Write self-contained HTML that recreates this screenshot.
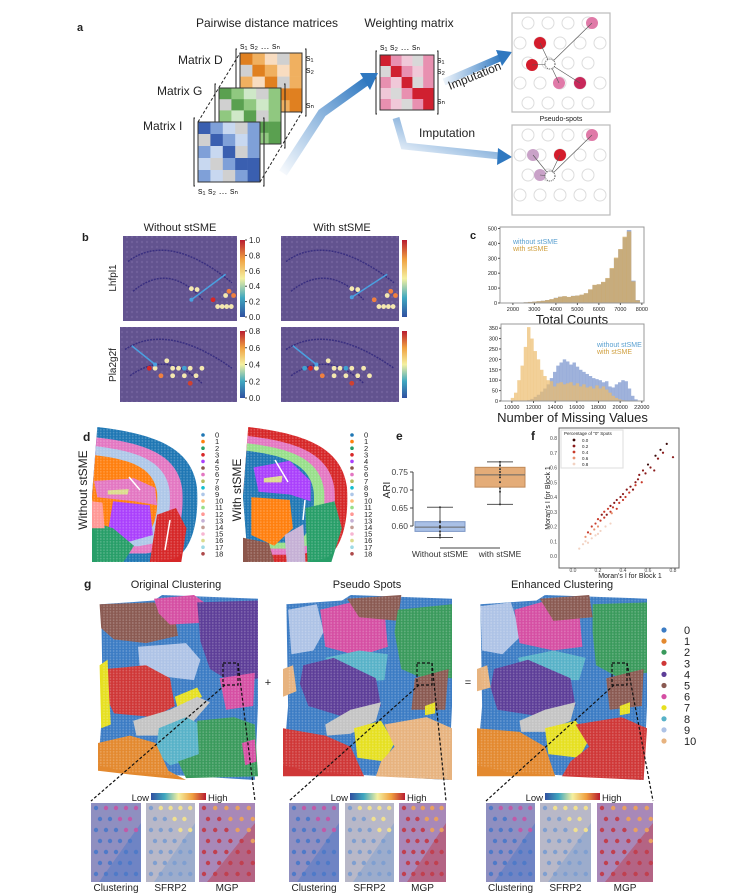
<!DOCTYPE html>
<html><head><meta charset="utf-8"><style>
html,body{margin:0;padding:0;background:#fff;}
svg{display:block;font-family:"Liberation Sans",sans-serif;}
</style></head><body>
<svg id="fig" width="749" height="893" viewBox="0 0 749 893" xmlns="http://www.w3.org/2000/svg">
<defs>
<pattern id="hex" width="3.2" height="2.8" patternUnits="userSpaceOnUse"><circle cx="1.6" cy="1.4" r="0.9" fill="#fff" fill-opacity="0.22"/></pattern>
<pattern id="tex" width="5" height="5" patternUnits="userSpaceOnUse"><circle cx="2" cy="2" r="1.2" fill="#8a78b0" fill-opacity="0.35"/></pattern>
<linearGradient id="cbar" x1="0" y1="1" x2="0" y2="0"><stop offset="0" stop-color="#3050a0"/><stop offset="0.25" stop-color="#40a8c0"/><stop offset="0.5" stop-color="#f4f0a0"/><stop offset="0.75" stop-color="#f0a040"/><stop offset="1" stop-color="#b81c30"/></linearGradient>
<linearGradient id="hbar" x1="0" y1="0" x2="1" y2="0"><stop offset="0" stop-color="#3050a0"/><stop offset="0.25" stop-color="#40a8c0"/><stop offset="0.5" stop-color="#f4f0a0"/><stop offset="0.75" stop-color="#f0a040"/><stop offset="1" stop-color="#b81c30"/></linearGradient>
<linearGradient id="arr1" x1="0" y1="1" x2="1" y2="0"><stop offset="0" stop-color="#3a80c8" stop-opacity="0.05"/><stop offset="1" stop-color="#2f78c0"/></linearGradient>
<linearGradient id="arr2" x1="0" y1="0" x2="1" y2="0"><stop offset="0" stop-color="#3a80c8" stop-opacity="0.1"/><stop offset="1" stop-color="#2f78c0"/></linearGradient>
</defs>
<g id="panelA"></g>
<g id="panelB"></g>
<g id="panelC"></g>
<g id="panelD"></g>
<g id="panelE"></g>
<g id="panelF"></g>
<g id="panelG"></g>
</svg>
<script>
// ---------- DATA ----------
const histTopBins = [1500,1700,1900,2100,2300,2500,2700,2900,3100,3300,3500,3700,3900,4100,4300,4500,4700,4900,5100,5300,5500,5700,5900,6100,6300,6500,6700,6900,7100,7300,7500,7700];
const histTopWithout = [0,0,1,2,3,5,7,9,12,15,20,25,35,42,45,40,48,50,55,65,90,120,125,140,165,230,300,360,440,490,150,20];
const histTopWith = [0,0,1,2,3,5,7,9,12,15,20,26,34,42,46,41,47,50,56,66,92,122,126,142,168,235,305,362,445,480,145,18];
const histBotBins = [9600,9900,10200,10500,10800,11100,11400,11700,12000,12300,12600,12900,13200,13500,13800,14100,14400,14700,15000,15300,15600,15900,16200,16500,16800,17100,17400,17700,18000,18300,18600,18900,19200,19500,19800,20100,20400,20700,21000,21300];
const histBotWith = [0,15,40,100,170,260,355,300,240,200,150,120,100,95,70,85,90,80,85,90,75,85,70,80,65,70,60,75,60,70,55,40,25,15,8,4,2,0,0,0];
const histBotWithout = [0,0,0,0,0,2,5,10,20,30,45,60,80,110,140,170,185,200,190,175,185,165,150,140,130,120,110,105,100,90,95,70,65,80,90,100,95,60,25,8];
const boxGroups = ["Without stSME","with stSME"];
const boxWhiskLo = [0.568,0.660];
const boxQ1 = [0.585,0.708];
const boxMedian = [0.597,0.742];
const boxQ3 = [0.612,0.763];
const boxWhiskHi = [0.652,0.778];
const boxPoints = [[0.568,0.575,0.585,0.595,0.598,0.600,0.610,0.613,0.652],[0.660,0.695,0.705,0.722,0.735,0.742,0.750,0.758,0.768,0.778]];
const eTicks = [0.60,0.65,0.70,0.75];
const scX = [0.1,0.12,0.14,0.15,0.17,0.18,0.2,0.2,0.22,0.23,0.25,0.25,0.27,0.28,0.3,0.3,0.31,0.32,0.33,0.35,0.35,0.37,0.38,0.4,0.4,0.42,0.43,0.45,0.46,0.48,0.5,0.5,0.52,0.53,0.55,0.56,0.58,0.6,0.62,0.65,0.66,0.68,0.7,0.72,0.75,0.8,0.05,0.08,0.1,0.12,0.15,0.18,0.2,0.22,0.26,0.3];
const scY = [0.13,0.16,0.15,0.2,0.18,0.22,0.2,0.25,0.24,0.28,0.26,0.3,0.28,0.32,0.3,0.34,0.29,0.33,0.36,0.32,0.38,0.36,0.4,0.38,0.42,0.4,0.45,0.43,0.47,0.45,0.5,0.48,0.52,0.55,0.5,0.58,0.56,0.62,0.6,0.58,0.68,0.66,0.72,0.7,0.76,0.67,0.05,0.08,0.1,0.09,0.12,0.14,0.15,0.17,0.2,0.22];
const scFrac = [0.6,0.4,0.6,0.4,0.6,0.4,0.6,0.4,0.4,0.2,0.4,0.4,0.2,0.4,0.4,0.2,0.6,0.4,0.2,0.4,0.2,0.4,0.2,0.4,0.2,0.4,0.2,0.4,0.2,0.2,0.2,0.4,0.2,0.2,0.4,0.2,0.2,0.0,0.2,0.2,0.0,0.2,0.0,0.2,0.0,0.2,0.8,0.8,0.8,0.8,0.8,0.8,0.8,0.8,0.8,0.8];
const fTicks = [0.0,0.1,0.2,0.3,0.4,0.5,0.6,0.7,0.8];
const fxTicks = [0.0,0.2,0.4,0.6,0.8];
const fLegend = [0.0,0.2,0.4,0.6,0.8];
const clusterColors = ["#1f77b4","#ff7f0e","#279e68","#d62728","#aa40fc","#8c564b","#e377c2","#b5bd61","#17becf","#aec7e8","#ffbb78","#98df8a","#ff9896","#c5b0d5","#c49c94","#f7b6d2","#dbdb8d","#9edae5","#ad494a"];
const gColors = ["#3c7cc4","#e3892f","#3a9a5c","#cf3737","#5d3e98","#8a5a52","#d54fa3","#e6e021","#58b2c8","#aec3e6","#e7b37f"];

// ---------- helpers ----------
const NS="http://www.w3.org/2000/svg";
function mk(parent,tag,attrs,text){const e=document.createElementNS(NS,tag);for(const k in attrs)e.setAttribute(k,attrs[k]);if(text!==undefined)e.textContent=text;parent.appendChild(e);return e;}
function txt(parent,x,y,s,size,opts){opts=opts||{};const e=mk(parent,'text',Object.assign({x:x,y:y,'font-size':size,fill:opts.fill||'#222','text-anchor':opts.anchor||'start'},opts.extra||{}),s);return e;}
const A=document.getElementById('panelA'),B=document.getElementById('panelB'),C=document.getElementById('panelC'),D=document.getElementById('panelD'),E=document.getElementById('panelE'),F=document.getElementById('panelF'),G=document.getElementById('panelG');

// ---------- Panel A ----------
let t;
t=txt(A,77,31,'a',11,{extra:{'font-weight':'bold'}});

t=txt(A,267,27,'Pairwise distance matrices',12,{anchor:'middle'});

t=txt(A,409,27,'Weighting matrix',12,{anchor:'middle'});

const pat=[[3,2,1,0,2],[0,3,2,1,2],[2,1,3,0,2],[1,0,2,3,3],[2,1,0,2,3]];
function matrix(x,y,w,h,cols,name){
  const g=mk(A,'g',{});
  
  const cw=w/5,ch=h/5;
  for(let r=0;r<5;r++)for(let c=0;c<5;c++){mk(g,'rect',{x:x+c*cw,y:y+r*ch,width:cw+0.3,height:ch+0.3,fill:cols[pat[r][c]]});}
  mk(g,'rect',{x:x,y:y,width:w,height:h,fill:'none',stroke:'#333','stroke-width':1});
  mk(g,'path',{d:`M${x-3},${y-4} h-1 v${h+8} h1 M${x+w+3},${y-4} h1 v${h+8} h-1`,stroke:'#222',fill:'none','stroke-width':1});
  return g;
}
matrix(240,53,62,59,['#d0d0d0','#f8dcc0','#f0b060','#e08020'],'matrix-d');
matrix(219,88,62,56,['#d0d0d0','#cfe8c8','#90c880','#5aa050'],'matrix-g');
matrix(198,122,62,60,['#d0d0d0','#c8d8f0','#7fa0d8','#3a5fb0'],'matrix-i');
mk(A,'path',{d:'M198,122 L240,53 M260,182 L302,112',stroke:'#222','stroke-dasharray':'3,2',fill:'none'});
t=txt(A,178,64,'Matrix D',12);
t=txt(A,157,95,'Matrix G',12);
t=txt(A,143,130,'Matrix I',12);
txt(A,240,49,'s\u2081  s\u2082   \u2026    s\u2099',9);
txt(A,198,194,'s\u2081  s\u2082   \u2026    s\u2099',9);
txt(A,306,61,'s\u2081',9);txt(A,306,73,'s\u2082',9);txt(A,306,108,'s\u2099',9);
matrix(380,55,54,55,['#d8d8d8','#f0c8d8','#e890b0','#d02030'],'weighting-matrix');
txt(A,380,50,'s\u2081 s\u2082  \u2026  s\u2099',9);
txt(A,437,63,'s\u2081',9);txt(A,437,74,'s\u2082',9);txt(A,437,104,'s\u2099',9);
t=mk(A,'path',{d:'M283,173 L322,113 L368,80',stroke:'url(#arr1)','stroke-width':9,fill:'none'});

mk(A,'polygon',{points:'378,73 360,73 370,90',fill:'#2f78c0'});
mk(A,'path',{d:'M444,82 L502,57',stroke:'url(#arr2)','stroke-width':7,fill:'none'});
mk(A,'polygon',{points:'512,52 496,50 502,66',fill:'#2f78c0'});
mk(A,'path',{d:'M396,118 L404,146 L500,156',stroke:'url(#arr1)','stroke-width':7,fill:'none'});
mk(A,'polygon',{points:'512,157 498,148 497,165',fill:'#2f78c0'});
t=txt(A,450,90,'Imputation',12,{extra:{transform:'rotate(-22 450 90)'}});
t=txt(A,419,137,'Imputation',12);
function spotBox(y,h,colored,name){
  const g=mk(A,'g',{});
  mk(g,'rect',{x:512,y:y,width:98,height:h,fill:'#fff',stroke:'#bbb','stroke-width':1.2});
  for(let r=0;r<5;r++){const off=r%2?0:8;for(let c=0;c<5;c++){const cx=520+off+c*20,cy=y+10+r*20;if(cx>606||cy>y+h-5)continue;mk(g,'circle',{cx:cx,cy:cy,r:6,fill:'none',stroke:'#ddd'});}}
  colored.forEach(p=>{mk(g,'circle',{cx:p[0],cy:y+p[1],r:6,fill:p[2]});mk(g,'line',{x1:p[0],y1:y+p[1],x2:550,y2:y+p[3]||y+51,stroke:'#555','stroke-width':0.6});});
  mk(g,'circle',{cx:550,cy:y+51,r:5,fill:'#fff',stroke:'#555','stroke-dasharray':'1,1'});
}
spotBox(13,99,[[592,10,'#e07aa8'],[540,30,'#d41c2c'],[532,52,'#d41c2c'],[559,70,'#e07aa8'],[580,70,'#c8285a']],'imputation-spots-top');
t=txt(A,561,121,'Pseudo-spots',7,{anchor:'middle'});
spotBox(125,90,[[592,10,'#e07aa8'],[533,30,'#c9a2c8'],[560,30,'#d41c2c'],[540,50,'#c9a2c8']],'imputation-spots-bottom');

// ---------- Panel B ----------
t=txt(B,82,241,'b',11,{extra:{'font-weight':'bold'}});
txt(B,180,231,'Without stSME',11,{anchor:'middle'});
txt(B,342,231,'With stSME',11,{anchor:'middle'});
t=txt(B,116,278,'Lhfpl1',10,{anchor:'middle',extra:{transform:'rotate(-90 116 278)'}});
t=txt(B,116,365,'Pla2g2f',10,{anchor:'middle',extra:{transform:'rotate(-90 116 365)'}});
const topSpots=[[0.6,0.62,'#f4e8b0'],[0.65,0.63,'#f4e8b0'],[0.79,0.75,'#d62728'],[0.83,0.83,'#f4e8b0'],[0.87,0.83,'#f4e8b0'],[0.91,0.83,'#f4e8b0'],[0.95,0.83,'#f4e8b0'],[0.93,0.65,'#f08040'],[0.9,0.7,'#f4e8b0'],[0.97,0.7,'#f08040']];
const botSpots=[[0.3,0.55,'#f4e8b0'],[0.4,0.45,'#f4e8b0'],[0.45,0.55,'#f4e8b0'],[0.5,0.55,'#f4e8b0'],[0.55,0.55,'#40a0d0'],[0.6,0.55,'#f4e8b0'],[0.35,0.65,'#f08040'],[0.45,0.65,'#f4e8b0'],[0.55,0.65,'#f4e8b0'],[0.65,0.65,'#f4e8b0'],[0.7,0.55,'#f4e8b0'],[0.6,0.75,'#d04030'],[0.25,0.55,'#d62728']];
function bImg(x,y,w,h,spots,arrow,name,cbTicks){
  const g=mk(B,'g',{});
  mk(g,'rect',{x:x,y:y,width:w,height:h,fill:'#62538f'});
  mk(g,'rect',{x:x,y:y,width:w,height:h,fill:'url(#tex)'});
  mk(g,'path',{d:`M${x+5},${y+h*0.3} Q${x+w*0.4},${y-5} ${x+w-5},${y+h*0.55}`,stroke:'#3a2f80','stroke-width':1.5,fill:'none','stroke-dasharray':'2,1'});
  mk(g,'path',{d:`M${x+10},${y+h*0.65} Q${x+w*0.4},${y+h*0.3} ${x+w*0.7},${y+h*0.75}`,stroke:'#3a2f80','stroke-width':1.5,fill:'none','stroke-dasharray':'2,1'});
  spots.forEach(s=>mk(g,'circle',{cx:x+s[0]*w,cy:y+s[1]*h,r:2.4,fill:s[2]}));
  mk(g,'line',{x1:x+arrow[0]*w,y1:y+arrow[1]*h,x2:x+arrow[2]*w,y2:y+arrow[3]*h,stroke:'#4aa0e0','stroke-width':1.5});
  const ax=x+arrow[2]*w,ay=y+arrow[3]*h,ang=Math.atan2(arrow[3]-arrow[1],(arrow[2]-arrow[0])*w/h);
  mk(g,'circle',{cx:ax,cy:ay,r:2,fill:'#4aa0e0'});
  const cb=mk(g,'rect',{x:x+w+3,y:y+4,width:5,height:h-8,fill:'url(#cbar)'});
  cbTicks.forEach((v,i)=>{const yy=y+4+(h-8)*(1-i/(cbTicks.length-1));mk(g,'line',{x1:x+w+8,y1:yy,x2:x+w+10,y2:yy,stroke:'#444'});txt(g,x+w+12,yy+3,v,8);});
}
bImg(123,236,114,85,topSpots,[0.9,0.45,0.6,0.75],'lhfpl1-without',['0.0','0.2','0.4','0.6','0.8','1.0']);
bImg(281,236,118,85,topSpots.map(s=>[s[0],s[1],s[2]==='#d62728'?'#f08040':s[2]]),[0.9,0.45,0.6,0.72],'lhfpl1-with',[]);
bImg(120,327,117,75,botSpots,[0.1,0.25,0.3,0.5],'pla2g2f-without',['0.0','0.2','0.4','0.6','0.8']);
bImg(281,327,118,75,botSpots.concat([[0.2,0.55,'#40a0d0'],[0.75,0.65,'#f4e8b0']]),[0.1,0.25,0.3,0.5],'pla2g2f-with',[]);

// ---------- Panel C ----------
t=txt(C,470,239,'c',11,{extra:{'font-weight':'bold'}});
function hist(ax,bins,series,cols,xmin,xmax,ymax,xticks,yticks,xlabel,name,legendPos){
  const g=mk(C,'g',{});
  const sx=v=>ax.x0+(v-xmin)/(xmax-xmin)*(ax.x1-ax.x0), sy=v=>ax.y1-v/ymax*(ax.y1-ax.y0);
  const bw=bins[1]-bins[0];
  series.forEach((s,si)=>{s.forEach((v,i)=>{if(v<=0)return;const r=mk(g,'rect',{x:sx(bins[i]),y:sy(v),width:sx(bins[i]+bw)-sx(bins[i])+0.2,height:sy(0)-sy(v),fill:cols[si],'fill-opacity':si===0?0.75:0.7});});});
  mk(g,'rect',{x:ax.x0,y:ax.y0,width:ax.x1-ax.x0,height:ax.y1-ax.y0,fill:'none',stroke:'#999'});
  xticks.forEach(v=>{mk(g,'line',{x1:sx(v),y1:ax.y1,x2:sx(v),y2:ax.y1+2,stroke:'#555'});txt(g,sx(v),ax.y1+8,String(v),5.5,{anchor:'middle'});});
  yticks.forEach(v=>{mk(g,'line',{x1:ax.x0-2,y1:sy(v),x2:ax.x0,y2:sy(v),stroke:'#555'});txt(g,ax.x0-3,sy(v)+2,String(v),5.5,{anchor:'end'});});
  txt(g,(ax.x0+ax.x1)/2,ax.y1+21,xlabel,13,{anchor:'middle'});
  txt(g,legendPos[0],legendPos[1],'without stSME',7,{fill:'#5aa0d0'});
  txt(g,legendPos[0],legendPos[1]+7,'with stSME',7,{fill:'#d0a040'});
}
hist({x0:500,x1:644,y0:227,y1:303},histTopBins,[histTopWithout,histTopWith],['#7f98cf','#d9aa55'],1400,8100,510,[2000,3000,4000,5000,6000,7000,8000],[0,100,200,300,400,500],'Total Counts','histogram-total-counts',[513,244]);
hist({x0:501,x1:644,y0:324,y1:401},histBotBins,[histBotWithout,histBotWith],['#7f98cf','#ecbc6c'],9000,22200,370,[10000,12000,14000,16000,18000,20000,22000],[0,50,100,150,200,250,300,350],'Number of Missing Values','histogram-missing-values',[597,347]);

// ---------- Panel D ----------
t=txt(D,83,441,'d',12,{extra:{'font-weight':'bold'}});
function brain(x0,x1,y0,y1,layers,extras,name){
  const g=mk(D,'g',{});
  const w=x1-x0,h=y1-y0;
  const shape=(s,dx)=>{const cx=x0+dx,cy=y0+h*0.55;const P=(px,py)=>[(cx+(px*w-dx)*s).toFixed(1),(cy+(py*h-h*0.55)*s).toFixed(1)];
    const a=P(0.05,0.0),b=P(0.6,0.05),c=P(1.0,0.45),d=P(0.95,0.9),e=P(0.6,1.0),f=P(0.05,1.0),m=P(0.0,0.5);
    return `M${a} C${b} ${P(0.95,0.15)} ${c} C${P(1.02,0.7)} ${d} ${P(0.8,0.97)} L${e} L${f} L${m} Z`;};
  layers.forEach(l=>mk(g,'path',{d:shape(l[0],l[1]),fill:l[2]}));
  extras.forEach(e=>mk(g,'path',{d:e[0].replace(/([\d.]+),([\d.]+)/g,(m,a,b)=>(x0+a*w/100).toFixed(1)+','+(y0+b*h/100).toFixed(1)),fill:e[1]}));
  mk(g,'path',{d:shape(1,0),fill:'url(#hex)'});
  return g;
}
brain(92,197,427,562,[[1,0,'#1f77b4'],[0.86,0,'#e377c2'],[0.74,0,'#aec7e8'],[0.62,0,'#ff7f0e']],[
 ['M2,40 L40,38 L60,45 L62,58 L40,55 L5,52 Z','#e377c2'],
 ['M15,47 L35,46 L34,50 L15,50 Z','#dbdb8d'],
 ['M20,55 L55,58 L58,80 L35,85 L15,78 Z','#aa40fc'],
 ['M0,70 L20,75 L40,88 L30,100 L0,100 Z','#279e68'],
 ['M62,65 L80,60 L90,75 L85,100 L55,100 Z','#d62728'],
 ['M0,55 L10,56 L12,75 L0,75 Z','#ff9896']
],'brain-without-stsme');
brain(243,347,427,562,[[1,0,'#d62728'],[0.88,0,'#e377c2'],[0.78,0,'#98df8a'],[0.68,0,'#1f77b4']],[
 ['M10,30 L45,25 L65,40 L65,55 L45,50 L15,48 Z','#aa40fc'],
 ['M20,38 L38,36 L37,41 L20,41 Z','#dbdb8d'],
 ['M8,52 L45,54 L48,75 L30,88 L8,80 Z','#ff7f0e'],
 ['M60,60 L88,55 L95,75 L85,100 L62,100 Z','#279e68'],
 ['M0,82 L25,86 L30,100 L0,100 Z','#8c564b'],
 ['M40,80 L58,72 L60,100 L42,100 Z','#c5b0d5']
],'brain-with-stsme');
mk(D,'path',{d:'M129,477 L140,490 M165,550 L170,520',stroke:'#fff','stroke-width':1.5});
mk(D,'path',{d:'M275,460 L288,482 M303,520 L305,500',stroke:'#fff','stroke-width':1.5});
t=txt(D,87,490,'Without stSME',12,{anchor:'middle',extra:{transform:'rotate(-90 87 490)'}});
t=txt(D,241,490,'With stSME',12,{anchor:'middle',extra:{transform:'rotate(-90 241 490)'}});
[[203,215,'legend-d-left'],[352,364,'legend-d-right']].forEach(L=>{
  const g=mk(D,'g',{});
  clusterColors.forEach((c,i)=>{const y=435+i*6.6;mk(g,'circle',{cx:L[0],cy:y,r:1.8,fill:c});txt(g,L[1],y+2.6,String(i),7.5);});
});

// ---------- Panel E ----------
t=txt(E,396,440,'e',12,{extra:{'font-weight':'bold'}});
const ey=v=>526-(v-0.6)*360;
const ex=[440,500];
mk(E,'line',{x1:413,y1:ey(0.60),x2:413,y2:ey(0.75),stroke:'#444'});
mk(E,'line',{x1:440,y1:548,x2:500,y2:548,stroke:'#444'});
eTicks.forEach(v=>{mk(E,'line',{x1:410,y1:ey(v),x2:413,y2:ey(v),stroke:'#444'});txt(E,408,ey(v)+3,v.toFixed(2),8.5,{anchor:'end',fill:'#444'});});
t=txt(E,390,490,'ARI',10,{anchor:'middle',extra:{transform:'rotate(-90 390 490)'}});
const bcol=['#a9c0e6','#e4ac78'],bst=['#7c97c6','#c08a58'];
boxGroups.forEach((gname,i)=>{
  const g=mk(E,'g',{});
  const cx=ex[i];
  mk(g,'line',{x1:cx,y1:ey(boxWhiskLo[i]),x2:cx,y2:ey(boxWhiskHi[i]),stroke:'#555'});
  mk(g,'line',{x1:cx-13,y1:ey(boxWhiskLo[i]),x2:cx+13,y2:ey(boxWhiskLo[i]),stroke:'#555'});
  mk(g,'line',{x1:cx-13,y1:ey(boxWhiskHi[i]),x2:cx+13,y2:ey(boxWhiskHi[i]),stroke:'#555'});
  mk(g,'rect',{x:cx-25,y:ey(boxQ3[i]),width:50,height:ey(boxQ1[i])-ey(boxQ3[i]),fill:bcol[i],stroke:bst[i]});
  mk(g,'line',{x1:cx-25,y1:ey(boxMedian[i]),x2:cx+25,y2:ey(boxMedian[i]),stroke:'#666'});
  boxPoints[i].forEach(v=>mk(g,'circle',{cx:cx,cy:ey(v),r:1,fill:'#333'}));
  txt(g,cx,557,gname,8.5,{anchor:'middle',fill:'#333'});
});

// ---------- Panel F ----------
t=txt(F,531,440,'f',12,{extra:{'font-weight':'bold'}});
const fx=v=>573+v*125, fy=v=>556-v*147.5;
mk(F,'rect',{x:559,y:428,width:120,height:140,fill:'#fff',stroke:'#666'});
fTicks.forEach(v=>txt(F,557,fy(v)+2,v.toFixed(1),5,{anchor:'end',fill:'#444'}));
fxTicks.forEach(v=>txt(F,fx(v),572,v.toFixed(1),5,{anchor:'middle',fill:'#444'}));
t=txt(F,550,498,"Moran's I for Block 1",7,{anchor:'middle',extra:{transform:'rotate(-90 550 498)'}});
t=txt(F,630,578,"Moran's I for Block 1",7,{anchor:'middle'});
const fcol=v=>({0:'#3a0a0a',0.2:'#8a1a1a',0.4:'#c83a2a',0.6:'#e89070',0.8:'#f2d2c2'})[v];
for(let i=0;i<Math.min(scX.length,scY.length,scFrac.length);i++){
  const c=mk(F,'circle',{cx:fx(scX[i]),cy:fy(scY[i]),r:1.1,fill:fcol(scFrac[i])});
  
  
}
mk(F,'rect',{x:561,y:430,width:62,height:38,fill:'#fff',stroke:'#ddd'});
txt(F,564,435,'Percentage of "0" Spots',4.5);
fLegend.forEach((v,i)=>{mk(F,'circle',{cx:574,cy:440+i*6,r:1.4,fill:fcol(v)});txt(F,582,442+i*6,v.toFixed(1),4.5);});

// ---------- Panel G ----------
t=txt(G,84,588,'g',12,{extra:{'font-weight':'bold'}});
txt(G,176,588,'Original Clustering',11,{anchor:'middle'});
txt(G,367,588,'Pseudo Spots',11,{anchor:'middle'});
txt(G,562,588,'Enhanced Clustering',11,{anchor:'middle'});
txt(G,268,686,'+',11,{anchor:'middle'});
txt(G,468,686,'=',11,{anchor:'middle'});
const outline='M2,5 L35,3 L40,0 L100,2 L100,60 L98,100 L60,98 L20,96 L0,92 L3,60 Z';
function tissue(x0,x1,y0,y1,regions,name){
  const g=mk(G,'g',{});
  const w=x1-x0,h=y1-y0;
  const tr=d=>d.replace(/([\d.]+),([\d.]+)/g,(m,a,b)=>(x0+a*w/100).toFixed(1)+','+(y0+b*h/100).toFixed(1));
  mk(g,'path',{d:tr(outline),fill:gColors[0]});
  regions.forEach(r=>{const p=mk(g,'path',{d:'M'+r[0].map(q=>q[0]+','+q[1]).join(' L')+' Z',fill:r[1]==='grey'?'#c4c4c4':gColors[r[1]]});p.setAttribute('d',tr(p.getAttribute('d')));});
  mk(g,'path',{d:tr(outline),fill:'url(#hex)'});
}
tissue(98,258,595,780,[
 [[[1,5],[35,4],[48,12],[50,22],[30,26],[10,24],[2,18]],5],
 [[[35,2],[60,0],[68,5],[65,15],[45,16],[38,10]],6],
 [[[62,4],[100,3],[100,45],[85,48],[70,40],[64,25]],4],
 [[[25,28],[55,26],[64,35],[60,46],[40,44],[26,38]],9],
 [[[5,40],[30,38],[45,45],[48,60],[35,66],[10,64],[5,55]],3],
 [[[1,38],[6,35],[7,55],[8,70],[2,72]],7],
 [[[48,55],[62,50],[65,55],[50,62]],7],
 [[[22,68],[45,62],[62,55],[70,58],[60,68],[40,76],[24,76]],'grey'],
 [[[76,45],[98,42],[97,60],[80,62]],6],
 [[[38,72],[55,66],[64,70],[63,88],[45,92],[36,85]],8],
 [[[62,68],[85,66],[98,70],[100,98],[55,99],[50,90],[63,86]],2],
 [[[0,80],[20,76],[36,80],[44,95],[55,100],[20,97],[0,95]],1],
 [[[90,80],[98,78],[99,90],[92,92]],6]
],'tissue-original-clustering');
tissue(283,452,595,780,[
 [[[3,8],[20,5],[24,20],[18,30],[5,32]],9],
 [[[22,8],[45,3],[60,8],[62,28],[45,33],[25,28]],6],
 [[[38,2],[70,0],[68,14],[45,12]],5],
 [[[68,8],[100,5],[100,45],[80,44],[70,40],[66,20]],2],
 [[[25,34],[45,30],[62,32],[60,46],[35,48]],8],
 [[[12,38],[30,34],[55,45],[58,60],[40,67],[15,60],[10,48]],4],
 [[[78,45],[98,40],[96,62],[76,62]],5],
 [[[25,70],[40,62],[58,58],[55,68],[40,75],[26,76]],'grey'],
 [[[42,72],[58,68],[66,80],[60,90],[44,88]],7],
 [[[60,70],[85,66],[100,72],[100,100],[55,98],[58,90],[66,82]],10],
 [[[0,72],[25,76],[40,82],[48,98],[0,98]],3],
 [[[0,40],[6,38],[8,52],[0,55]],10],
 [[[84,60],[90,58],[90,64],[84,65]],7]
],'tissue-pseudo-spots');
tissue(477,647,595,780,[
 [[[2,6],[20,4],[26,22],[15,32],[3,30]],9],
 [[[22,8],[45,2],[60,8],[62,28],[45,30],[25,26]],6],
 [[[37,2],[66,0],[68,12],[45,14]],5],
 [[[68,5],[100,4],[100,42],[82,44],[70,38],[68,20]],2],
 [[[24,34],[45,30],[64,34],[60,46],[30,46]],8],
 [[[10,40],[30,35],[55,45],[58,60],[40,66],[12,62],[8,50]],4],
 [[[76,45],[98,40],[97,60],[78,62]],5],
 [[[25,68],[40,62],[58,58],[55,68],[40,74],[26,74]],'grey'],
 [[[40,72],[58,68],[66,78],[60,88],[42,86]],7],
 [[[58,70],[85,66],[100,72],[98,100],[50,98],[55,90],[66,82]],3],
 [[[0,72],[25,74],[40,82],[46,98],[0,98]],1],
 [[[0,40],[6,38],[8,50],[0,52]],10],
 [[[84,60],[90,58],[90,64],[84,65]],7]
],'tissue-enhanced-clustering');
// legend
const lg=mk(G,'g',{});
gColors.forEach((c,i)=>{const y=630+i*11.1;mk(lg,'circle',{cx:664,cy:y,r:2.6,fill:c});txt(lg,684,y+4,String(i),11);});
// zoom boxes, lines, insets
[[223,417,612],[0]].slice(0,1);
const insetSets=[[223,[91,146,199],[50,49,56]],[417,[289,345,399],[50,49,47]],[612,[486,540,597],[49,51,56]]];
insetSets.forEach((s,k)=>{
  const g=mk(G,'g',{});
  const bx=s[0];
  mk(g,'rect',{x:bx,y:663,width:15,height:22,fill:'none',stroke:'#111','stroke-dasharray':'3,2','stroke-width':1.2});
  mk(g,'line',{x1:bx+2,y1:685,x2:s[1][0],y2:801,stroke:'#111','stroke-dasharray':'3,2','stroke-width':1.2});
  mk(g,'line',{x1:bx+15,y1:663,x2:s[1][2]+s[2][2],y2:801,stroke:'#111','stroke-dasharray':'3,2','stroke-width':1.2});
  txt(g,s[1][1]+3,801,'Low',9.5,{anchor:'end'});
  mk(g,'rect',{x:s[1][1]+5,y:793,width:55,height:7,fill:'url(#hbar)'});
  txt(g,s[1][1]+62,801,'High',9.5);
  const bgs=[['#8f8fc0','#c05aa8','#4f7ac8'],['#b8b8c8','#f0e090','#7f9fd0'],['#a888b8','#e8a060','#c04050']];
  ['Clustering','SFRP2','MGP'].forEach((lab,j)=>{
    const x=s[1][j],w=s[2][j];
    const r=mk(g,'rect',{x:x,y:803,width:w,height:79,fill:bgs[j][0]});
    
    mk(g,'path',{d:`M${x+w},${803+20} L${x+w},882 L${x+8},882 Z`,fill:bgs[j][2],'fill-opacity':0.5});
    for(let yy=0;yy<7;yy++)for(let xx=0;xx<5;xx++){const cx=x+5+xx*w/5+(yy%2)*4,cy=808+yy*11;if(cx>x+w-2)continue;mk(g,'circle',{cx:cx,cy:cy,r:2.2,fill:(xx*11>yy*9+10)?bgs[j][1]:bgs[j][2]});}
    txt(g,x+w/2,891,lab,10,{anchor:'middle'});
  });
});
</script>
</body></html>
